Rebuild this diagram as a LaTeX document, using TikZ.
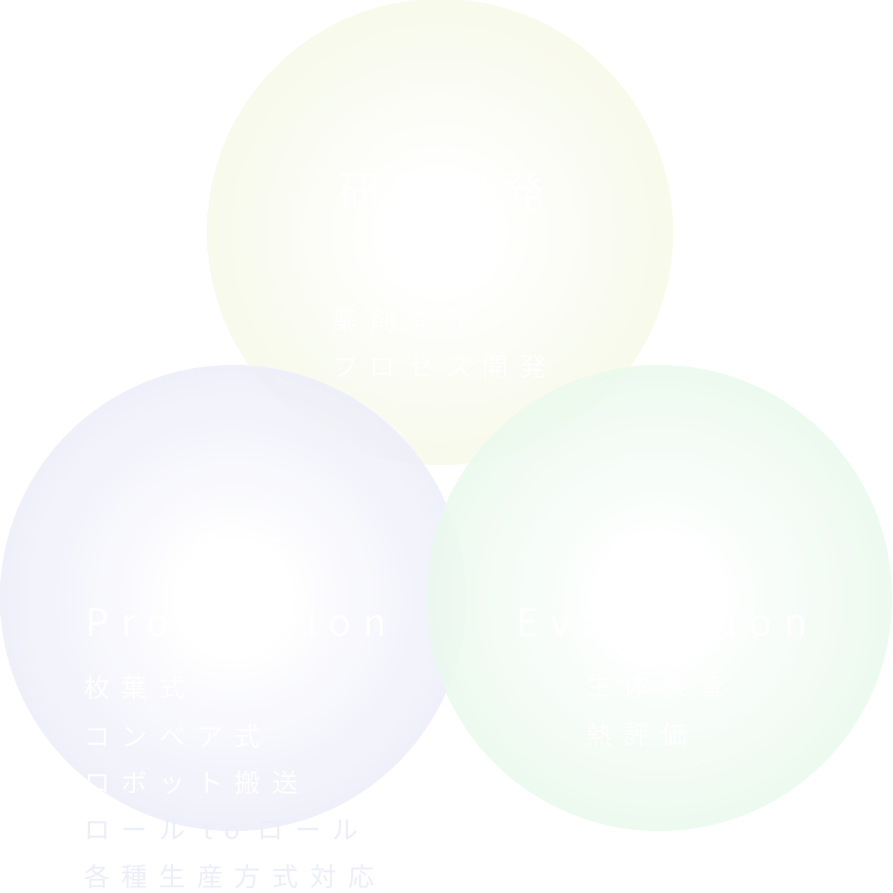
\documentclass[tikz,border=0pt]{standalone}
\usepackage{fontspec}
\setmainfont{Noto Sans CJK JP}
\newfontfamily\jl[LetterSpace=45]{Noto Sans CJK JP}
\newfontfamily\jt[LetterSpace=22]{Noto Sans CJK JP}
\newfontfamily\lt[LetterSpace=30]{Noto Sans CJK JP}
\definecolor{cY}{HTML}{F2F7DC}
\definecolor{cB}{HTML}{E3E5F7}
\definecolor{cG}{HTML}{E0F7E4}
\definecolor{lav}{HTML}{ECEEFA}
\pgfdeclareradialshading{ballY}{\pgfpoint{0bp}{0bp}}{color(0bp)=(white);color(6bp)=(white);color(22bp)=(cY!55!white);color(35bp)=(cY);color(100bp)=(cY)}
\pgfdeclareradialshading{ballB}{\pgfpoint{0bp}{0bp}}{color(0bp)=(white);color(6bp)=(white);color(22bp)=(cB!55!white);color(35bp)=(cB);color(100bp)=(cB)}
\pgfdeclareradialshading{ballG}{\pgfpoint{0bp}{0bp}}{color(0bp)=(white);color(6bp)=(white);color(22bp)=(cG!55!white);color(35bp)=(cG);color(100bp)=(cG)}
\begin{document}
\begin{tikzpicture}[x=1pt,y=-1pt,
  ball/.style={circle,minimum size=466pt,inner sep=0pt,fill opacity=0.85},
  ttl/.style={text=white,font=\jt\fontsize{44}{50}\selectfont,anchor=center,inner sep=0pt},
  sub/.style={text=white,font=\lt\fontsize{38}{44}\selectfont,anchor=center,inner sep=0pt},
  itm/.style={text=white,font=\jl\fontsize{26}{30}\selectfont,anchor=west,inner sep=0pt}]
\path[fill=white] (0,0) rectangle (892,893);
\useasboundingbox (0,0) rectangle (892,893);
\node[ball,shading=ballY] (rd) at (440,232) {};
\node[ball,shading=ballB] (pr) at (233,598) {};
\node[ball,shading=ballG] (ev) at (659,598) {};
\node[ttl] (t1) at (442,192) {研究開発};
\node[sub] (s1) at (442,255) {R\&D};
\node[itm] (a1) at (332,321) {薬剤開発};
\node[itm] (a2) at (332,367) {プロセス開発};
\node[ttl] (t2) at (236,556) {生産};
\node[sub] (s2) at (236,622) {Production};
\node[itm] (b1) at (84,688) {枚葉式};
\node[itm] (b2) at (84,737) {コンベア式};
\node[itm] (b3) at (84,783) {ロボット搬送};
\node[itm,text=lav] (b4) at (84,830) {ロール to ロール};
\node[itm,text=lav] (b5) at (84,877) {各種生産方式対応};
\node[ttl] (t3) at (662,556) {評価};
\node[sub] (s3) at (662,622) {Evaluation};
\node[itm] (c1) at (586,686) {生体検査};
\node[itm] (c2) at (586,735) {熱評価};
\end{tikzpicture}
\end{document}
